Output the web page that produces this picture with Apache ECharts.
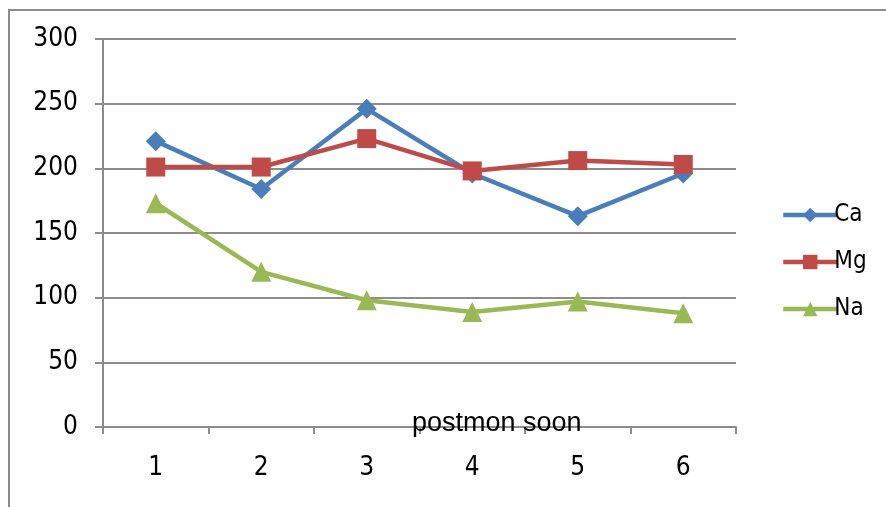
<!DOCTYPE html>
<html>
<head>
<meta charset="utf-8">
<script src="https://cdn.jsdelivr.net/npm/echarts@6/dist/echarts.min.js"></script>
<style>
  html, body { margin: 0; padding: 0; background: #fff; }
  #chart { width: 886px; height: 507px; }
</style>
</head>
<body>
<div id="chart"></div>
<script>
// 类别与数据
var categories = ['1', '2', '3', '4', '5', '6'];
var ca = [221, 184, 246, 196, 163, 196];
var mg = [201, 201, 223, 198, 206, 203];
var na = [173, 120, 98, 89, 97, 88];
var yTicks = [0, 50, 100, 150, 200, 250, 300];

var font = '"Liberation Sans Narrow", "DejaVu Sans Condensed", "Liberation Sans", sans-serif';
var gray = '#8c8c8c';

var mcharts = echarts.init(document.getElementById('chart'));

function line(name, data, color, symbol, size) {
    return {
        name: name,
        type: 'line',
        data: data,
        symbol: symbol,
        symbolSize: size,
        showSymbol: true,
        lineStyle: { color: color, width: 4.5 },
        itemStyle: { color: color },
        animation: false
    };
}

var option = {
    backgroundColor: '#fff',
    textStyle: { fontFamily: font },
    graphic: [
        {
            type: 'rect',
            shape: { x: 9, y: 10, width: 900, height: 600 },
            style: { fill: 'none', stroke: gray, lineWidth: 2 },
            z: 0
        }
    ],
    title: {
        text: 'postmon soon',
        left: 407,
        top: 405,
        textStyle: { fontFamily: '"Liberation Sans", sans-serif', fontSize: 27, fontWeight: 'normal', color: '#000' }
    },
    grid: { left: 103, right: 150, top: 39, bottom: 80, containLabel: false },
    legend: {
        orient: 'vertical',
        left: 776,
        top: 198,
        itemWidth: 54,
        itemHeight: 18,
        itemGap: 23,
        lineStyle: { width: 4.5 },
        textStyle: { fontFamily: font, fontSize: 24, color: '#000', padding: [0, 0, 0, -8] },
        data: ['Ca', 'Mg', 'Na']
    },
    xAxis: {
        type: 'category',
        data: categories,
        boundaryGap: true,
        axisLine: { lineStyle: { color: gray, width: 2 } },
        axisTick: { show: true, length: 7, lineStyle: { color: gray, width: 2 } },
        axisLabel: { fontFamily: font, fontSize: 26, color: '#000', margin: 28 },
        splitLine: { show: false }
    },
    yAxis: {
        type: 'value',
        min: yTicks[0],
        max: yTicks[yTicks.length - 1],
        interval: yTicks[1] - yTicks[0],
        axisLine: { show: true, lineStyle: { color: gray, width: 2 } },
        axisTick: { show: true, inside: false, length: 8, lineStyle: { color: gray, width: 2 } },
        axisLabel: { fontFamily: font, fontSize: 26, color: '#000', margin: 25 },
        splitLine: { show: true, lineStyle: { color: gray, width: 2 } }
    },
    series: [
        line('Ca', ca, '#4a7ebb', 'diamond', 20),
        line('Mg', mg, '#be4b48', 'rect', 19),
        line('Na', na, '#98b954', 'triangle', 20)
    ]
};

mcharts.setOption(option, true);
</script>
</body>
</html>
